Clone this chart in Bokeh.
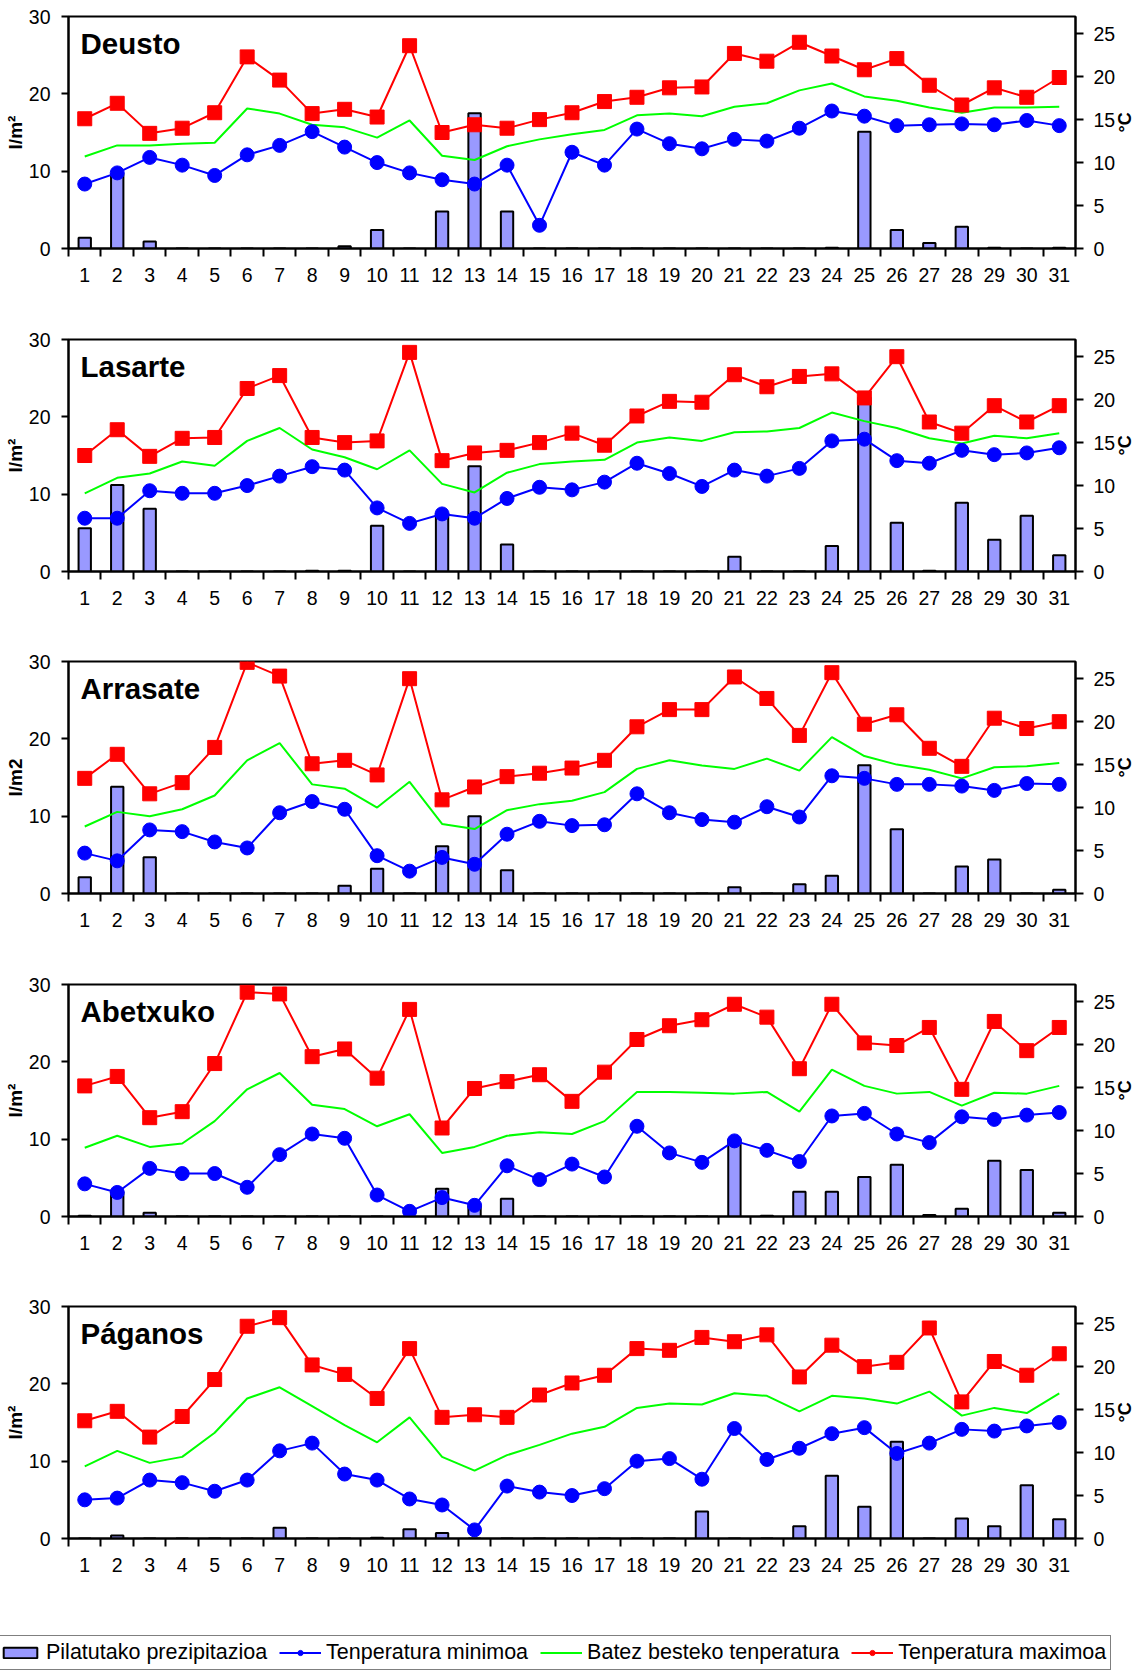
import math
from bokeh.plotting import figure
from bokeh.models import Range1d, LinearAxis, FixedTicker, Label, Legend, LegendItem, ColumnDataSource
from bokeh.layouts import column, row
from bokeh.embed import file_html
from bokeh.resources import INLINE

days = list(range(1, 32))
boundaries = [d + 0.5 for d in range(0, 32)]
left_ticks = [0, 10, 20, 30]
right_ticks = [0, 5, 10, 15, 20, 25]

stations = ["Deusto", "Lasarte", "Arrasate", "Abetxuko", "Páganos"]
prec_units = ["l/m²", "l/m²", "l/m2", "l/m²", "l/m²"]
temp_unit = "°C"
legend_labels = ["Pilatutako prezipitazioa", "Tenperatura minimoa",
                 "Batez besteko tenperatura", "Tenperatura maximoa"]

deusto_prec = [1.4, 9.7, 0.9, 0, 0, 0, 0, 0, 0.3, 2.4, 0, 4.8, 17.5, 4.8, 0, 0, 0, 0, 0, 0, 0, 0, 0, 0.1, 15.1, 2.4, 0.7, 2.8, 0.1, 0, 0.1]
deusto_tmax = [15.1, 16.9, 13.4, 14.0, 15.8, 22.3, 19.6, 15.7, 16.2, 15.3, 23.6, 13.5, 14.4, 14.0, 15.0, 15.8, 17.1, 17.6, 18.7, 18.8, 22.7, 21.8, 24.0, 22.4, 20.8, 22.1, 19.0, 16.7, 18.7, 17.6, 19.9]
deusto_tmin = [7.5, 8.8, 10.6, 9.7, 8.5, 10.9, 12.0, 13.6, 11.8, 10.0, 8.8, 8.0, 7.5, 9.7, 2.7, 11.2, 9.7, 13.9, 12.2, 11.6, 12.7, 12.5, 14.0, 16.0, 15.4, 14.3, 14.4, 14.5, 14.4, 14.9, 14.3]
deusto_tmean = [10.7, 12.0, 12.0, 12.2, 12.3, 16.3, 15.7, 14.4, 14.1, 12.9, 14.9, 10.8, 10.3, 11.9, 12.7, 13.3, 13.8, 15.5, 15.7, 15.4, 16.5, 16.9, 18.4, 19.2, 17.7, 17.2, 16.4, 15.8, 16.4, 16.4, 16.5]

lasarte_prec = [5.6, 11.2, 8.1, 0, 0, 0, 0, 0.1, 0.1, 5.9, 0, 7.5, 13.6, 3.5, 0, 0, 0, 0, 0, 0, 1.9, 0, 0, 3.3, 22.5, 6.3, 0.1, 8.9, 4.1, 7.2, 2.1]
lasarte_tmax = [13.5, 16.5, 13.4, 15.5, 15.6, 21.3, 22.8, 15.6, 15.0, 15.2, 25.5, 12.9, 13.8, 14.1, 15.0, 16.1, 14.7, 18.1, 19.8, 19.7, 22.9, 21.5, 22.7, 23.0, 20.2, 25.0, 17.4, 16.1, 19.3, 17.4, 19.3]
lasarte_tmin = [6.2, 6.2, 9.4, 9.1, 9.1, 10.0, 11.1, 12.2, 11.8, 7.4, 5.6, 6.7, 6.2, 8.5, 9.8, 9.5, 10.4, 12.6, 11.4, 9.9, 11.8, 11.1, 12.0, 15.2, 15.4, 12.9, 12.6, 14.1, 13.6, 13.8, 14.4]
lasarte_tmean = [9.1, 10.9, 11.4, 12.8, 12.3, 15.2, 16.7, 14.2, 13.3, 11.9, 14.1, 10.2, 9.2, 11.5, 12.5, 12.8, 13.0, 15.0, 15.6, 15.2, 16.2, 16.3, 16.7, 18.5, 17.5, 16.7, 15.5, 14.9, 15.8, 15.5, 16.1]

arrasate_prec = [2.1, 13.8, 4.7, 0, 0, 0, 0, 0, 1.0, 3.2, 0, 6.1, 10.0, 3.0, 0, 0, 0, 0, 0, 0, 0.8, 0, 1.2, 2.3, 16.6, 8.3, 0, 3.5, 4.4, 0, 0.5]
arrasate_tmax = [13.4, 16.2, 11.6, 12.9, 17.0, 26.9, 25.3, 15.1, 15.5, 13.8, 25.0, 10.9, 12.4, 13.6, 14.0, 14.6, 15.5, 19.4, 21.4, 21.4, 25.2, 22.7, 18.4, 25.7, 19.7, 20.8, 16.9, 14.8, 20.4, 19.2, 20.0]
arrasate_tmin = [4.7, 3.8, 7.4, 7.2, 6.0, 5.3, 9.4, 10.7, 9.8, 4.4, 2.6, 4.2, 3.4, 6.9, 8.4, 7.9, 8.0, 11.6, 9.4, 8.6, 8.3, 10.1, 8.9, 13.7, 13.4, 12.7, 12.7, 12.5, 12.0, 12.8, 12.7]
arrasate_tmean = [7.8, 9.5, 9.0, 9.8, 11.4, 15.5, 17.5, 12.7, 12.2, 10.0, 13.0, 8.1, 7.5, 9.7, 10.4, 10.8, 11.8, 14.5, 15.5, 14.9, 14.5, 15.7, 14.3, 18.2, 16.0, 15.0, 14.4, 13.4, 14.7, 14.8, 15.2]

abetxuko_prec = [0.1, 3.2, 0.5, 0, 0, 0, 0, 0, 0, 0, 0, 3.6, 1.4, 2.3, 0, 0, 0, 0, 0, 0, 10.0, 0.1, 3.2, 3.2, 5.1, 6.7, 0.2, 1.0, 7.2, 6.0, 0.5]
abetxuko_tmax = [15.2, 16.3, 11.5, 12.2, 17.8, 26.1, 25.9, 18.6, 19.5, 16.1, 24.1, 10.3, 14.9, 15.7, 16.5, 13.4, 16.8, 20.6, 22.2, 22.9, 24.7, 23.2, 17.2, 24.7, 20.2, 19.9, 22.0, 14.8, 22.7, 19.3, 22.0]
abetxuko_tmin = [3.8, 2.8, 5.6, 5.0, 5.0, 3.4, 7.2, 9.6, 9.1, 2.5, 0.6, 2.2, 1.3, 5.9, 4.3, 6.1, 4.6, 10.5, 7.4, 6.3, 8.8, 7.7, 6.4, 11.7, 12.0, 9.6, 8.6, 11.6, 11.3, 11.8, 12.1]
abetxuko_tmean = [8.0, 9.4, 8.1, 8.5, 11.1, 14.8, 16.7, 13.0, 12.5, 10.5, 11.9, 7.4, 8.1, 9.4, 9.8, 9.6, 11.1, 14.5, 14.5, 14.4, 14.3, 14.5, 12.2, 17.1, 15.2, 14.3, 14.5, 12.9, 14.4, 14.3, 15.2]

paganos_prec = [0, 0.4, 0, 0, 0, 0, 1.4, 0, 0, 0.1, 1.2, 0.7, 0, 0, 0, 0, 0, 0, 0, 3.5, 0, 0, 1.6, 8.1, 4.1, 12.5, 0, 2.6, 1.6, 6.9, 2.5]
paganos_tmax = [13.7, 14.8, 11.8, 14.2, 18.5, 24.7, 25.7, 20.2, 19.1, 16.3, 22.1, 14.1, 14.4, 14.1, 16.7, 18.1, 19.0, 22.1, 21.9, 23.4, 22.9, 23.7, 18.8, 22.5, 20.0, 20.5, 24.5, 15.9, 20.6, 19.0, 21.5]
paganos_tmin = [4.5, 4.7, 6.8, 6.5, 5.5, 6.8, 10.2, 11.1, 7.5, 6.8, 4.6, 3.9, 1.0, 6.1, 5.4, 5.0, 5.8, 9.0, 9.3, 6.9, 12.8, 9.2, 10.5, 12.2, 12.9, 9.9, 11.1, 12.7, 12.5, 13.1, 13.5]
paganos_tmean = [8.4, 10.2, 8.8, 9.5, 12.3, 16.3, 17.6, 15.4, 13.2, 11.2, 14.1, 9.5, 7.9, 9.7, 10.9, 12.2, 13.0, 15.2, 15.7, 15.6, 16.9, 16.6, 14.8, 16.6, 16.3, 15.7, 17.1, 14.3, 15.2, 14.6, 16.9]

PREC_MAX = 30
TEMP_MAX = 27

series = [
    (deusto_prec, deusto_tmin, deusto_tmean, deusto_tmax),
    (lasarte_prec, lasarte_tmin, lasarte_tmean, lasarte_tmax),
    (arrasate_prec, arrasate_tmin, arrasate_tmean, arrasate_tmax),
    (abetxuko_prec, abetxuko_tmin, abetxuko_tmean, abetxuko_tmax),
    (paganos_prec, paganos_tmin, paganos_tmean, paganos_tmax),
]

FONT = "Liberation Sans"
BAR_COLOR = "#9999FF"
MIN_COLOR = "#0000FF"
MEAN_COLOR = "#00FF00"
MAX_COLOR = "#FF0000"

LEFT_B = 68
RIGHT_B = 69
FRAME_W = 1007
FRAME_H = 232
top_borders = [16, 12, 12, 12, 12]
bottom_borders = [79, 78, 79, 78, 50]


def style_axis(ax):
    ax.axis_line_color = "black"
    ax.axis_line_width = 2
    ax.major_tick_line_color = "black"
    ax.major_tick_line_width = 2
    ax.minor_tick_line_color = "black"
    ax.minor_tick_line_width = 2
    ax.major_label_text_font = FONT
    ax.major_label_text_font_size = "19.5px"
    ax.major_label_text_color = "black"
    ax.axis_label_text_font = FONT
    ax.axis_label_text_font_size = "19px"
    ax.axis_label_text_font_style = "bold"
    ax.axis_label_text_color = "black"


def make_panel(i):
    prec, tmin, tmean, tmax = series[i]
    p = figure(frame_width=FRAME_W, frame_height=FRAME_H,
               min_border_left=LEFT_B, min_border_right=RIGHT_B,
               min_border_top=top_borders[i], min_border_bottom=bottom_borders[i],
               x_range=Range1d(0.5, 31.5), y_range=Range1d(0, PREC_MAX),
               x_axis_type=None, y_axis_type=None,
               output_backend="svg", toolbar_location=None)
    p.extra_y_ranges = {"t": Range1d(0, TEMP_MAX)}
    p.outline_line_color = "black"
    p.outline_line_width = 2
    p.background_fill_color = "white"
    p.border_fill_color = "white"

    xaxis = LinearAxis(ticker=FixedTicker(ticks=days, minor_ticks=boundaries))
    style_axis(xaxis)
    xaxis.major_tick_out = 0
    xaxis.major_tick_in = 0
    xaxis.minor_tick_out = 8
    xaxis.minor_tick_in = 0
    xaxis.major_label_standoff = 11
    p.add_layout(xaxis, "below")

    yaxis = LinearAxis(ticker=FixedTicker(ticks=left_ticks), axis_label=prec_units[i])
    style_axis(yaxis)
    yaxis.major_tick_out = 7
    yaxis.major_tick_in = 0
    yaxis.minor_tick_out = 0
    yaxis.major_label_standoff = 11
    yaxis.axis_label_standoff = 0
    p.add_layout(yaxis, "left")

    raxis = LinearAxis(y_range_name="t", ticker=FixedTicker(ticks=right_ticks), axis_label=temp_unit)
    style_axis(raxis)
    raxis.major_tick_out = 8
    raxis.major_tick_in = 0
    raxis.minor_tick_out = 0
    raxis.major_label_standoff = 10
    raxis.axis_label_standoff = 7
    raxis.axis_label_text_font_size = "18px"
    if "axis_label_orientation" in raxis.properties():
        raxis.axis_label_orientation = math.pi / 2
    p.add_layout(raxis, "right")

    src = ColumnDataSource(dict(day=days, prec=prec, tmin=tmin, tmean=tmean, tmax=tmax))
    p.vbar(x="day", top="prec", width=0.38, source=src,
           fill_color=BAR_COLOR, line_color="black", line_width=2)
    p.line("day", "tmean", source=src, y_range_name="t", line_color=MEAN_COLOR, line_width=2)
    p.line("day", "tmin", source=src, y_range_name="t", line_color=MIN_COLOR, line_width=2)
    p.scatter("day", "tmin", source=src, y_range_name="t", marker="circle", size=14,
              fill_color=MIN_COLOR, line_color=MIN_COLOR)
    p.line("day", "tmax", source=src, y_range_name="t", line_color=MAX_COLOR, line_width=2)
    p.scatter("day", "tmax", source=src, y_range_name="t", marker="square", size=14,
              fill_color=MAX_COLOR, line_color=MAX_COLOR)

    p.add_layout(Label(x=12, y=205, x_units="screen", y_units="screen", text=stations[i],
                       text_font=FONT, text_font_size="29.5px", text_font_style="bold",
                       text_color="black", text_baseline="alphabetic"))
    return p


panels = [make_panel(i) for i in range(5)]

# Legend strip: hidden renderers (Páganos data) supply the legend swatches.
lp = figure(frame_width=1144, frame_height=82,
            min_border=0, min_border_left=0, min_border_right=0,
            min_border_top=0, min_border_bottom=0,
            x_range=Range1d(0.5, 31.5), y_range=Range1d(0, PREC_MAX),
            x_axis_type=None, y_axis_type=None,
            output_backend="svg", toolbar_location=None)
lp.outline_line_color = None
lp.border_fill_color = "white"
leg_src = ColumnDataSource(dict(day=days, prec=paganos_prec, tmin=paganos_tmin,
                                tmean=paganos_tmean, tmax=paganos_tmax))
r_bar = lp.vbar(x="day", top="prec", width=0.5, source=leg_src,
                fill_color=BAR_COLOR, line_color="black", line_width=2, visible=False)
r_minl = lp.line("day", "tmin", source=leg_src, line_color=MIN_COLOR, line_width=2, visible=False)
r_mins = lp.scatter("day", "tmin", source=leg_src, marker="circle", size=6,
                    fill_color=MIN_COLOR, line_color=MIN_COLOR, visible=False)
r_mean = lp.line("day", "tmean", source=leg_src, line_color=MEAN_COLOR, line_width=2, visible=False)
r_maxl = lp.line("day", "tmax", source=leg_src, line_color=MAX_COLOR, line_width=2, visible=False)
r_maxs = lp.scatter("day", "tmax", source=leg_src, marker="circle", size=6,
                    fill_color=MAX_COLOR, line_color=MAX_COLOR, visible=False)

legend = Legend(items=[
    LegendItem(label=legend_labels[0], renderers=[r_bar]),
    LegendItem(label=legend_labels[1], renderers=[r_minl, r_mins]),
    LegendItem(label=legend_labels[2], renderers=[r_mean]),
    LegendItem(label=legend_labels[3], renderers=[r_maxl, r_maxs]),
], orientation="horizontal", location=(-6, 0))
legend.label_text_font = FONT
legend.label_text_font_size = "21.5px"
legend.label_text_color = "black"
legend.glyph_width = 42
legend.glyph_height = 13
legend.label_standoff = 5
legend.spacing = 12
legend.padding = 4
legend.margin = 0
legend.border_line_color = "black"
legend.border_line_width = 1
legend.background_fill_color = "white"
legend.background_fill_alpha = 1
legend.inactive_fill_alpha = 0
legend.click_policy = "none"
lp.add_layout(legend)

layout = column(*panels, row(lp))
open("out.html", "w").write(file_html(layout, INLINE))
